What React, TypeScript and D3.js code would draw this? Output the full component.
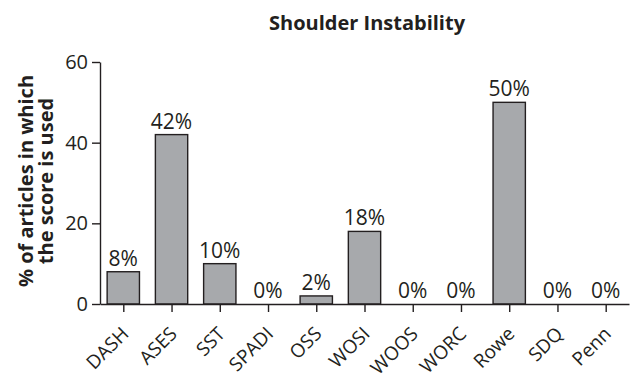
import React, { useEffect, useRef } from "react";
import * as d3 from "d3";

const categories = ["DASH", "ASES", "SST", "SPADI", "OSS", "WOSI", "WOOS", "WORC", "Rowe", "SDQ", "Penn"];
const values = [8, 42, 10, 0, 2, 18, 0, 0, 50, 0, 0];
const yTicks = [0, 20, 40, 60];
const title = "Shoulder Instability";
const yTitleLines = ["% of articles in which", "the score is used"];

const W = 633;
const H = 373;
const FONT = "'Open Sans', 'Noto Sans', sans-serif";
const INK = "#231f20";

export default function App() {
  const ref = useRef<SVGSVGElement>(null);

  useEffect(() => {
    const svg = d3.select(ref.current);
    svg.selectAll("*").remove();

    const x = d3.scalePoint<string>().domain(categories).range([100, 629]).padding(0.483);
    const y = d3.scaleLinear().domain([0, 60]).range([304, 62]);
    const bw = x.step() * 0.67;

    svg
      .append("text")
      .attr("x", 367)
      .attr("y", 30)
      .attr("text-anchor", "middle")
      .attr("font-family", FONT)
      .attr("font-weight", "bold")
      .attr("font-size", 20)
      .attr("fill", INK)
      .text(title);

    // bars
    svg
      .append("g")
      .selectAll("rect")
      .data(values)
      .join("rect")
      .attr("x", (_d, i) => (x(categories[i]) as number) - bw / 2)
      .attr("y", (d) => y(d))
      .attr("width", bw)
      .attr("height", (d) => y(0) - y(d))
      .attr("fill", "#a7a9ac")
      .attr("stroke", INK)
      .attr("stroke-width", 1.4);

    // value labels
    svg
      .append("g")
      .selectAll("text")
      .data(values)
      .join("text")
      .attr("x", (_d, i) => x(categories[i]) as number)
      .attr("y", (d) => y(d) - 6)
      .attr("text-anchor", "middle")
      .attr("font-family", FONT)
      .attr("font-size", 21)
      .attr("fill", INK)
      .text((d) => `${d}%`);

    // y axis
    const yAxis = d3.axisLeft(y).tickValues(yTicks).tickSize(8).tickPadding(4).tickSizeOuter(0);
    const gy = svg.append("g").attr("transform", "translate(100,0)").call(yAxis);
    gy.select(".domain").attr("stroke", INK).attr("stroke-width", 1.4);
    gy.selectAll(".tick line").attr("stroke", INK).attr("stroke-width", 1.4);
    gy.selectAll(".tick text")
      .attr("font-family", FONT)
      .attr("font-size", 20)
      .attr("fill", INK);

    // x axis
    const xAxis = d3.axisBottom(x).tickSize(8).tickSizeOuter(0).tickPadding(4);
    const gx = svg.append("g").attr("transform", "translate(0,304)").call(xAxis);
    gx.select(".domain").attr("stroke", INK).attr("stroke-width", 1.4);
    gx.selectAll(".tick line").attr("stroke", INK).attr("stroke-width", 1.4);
    gx.selectAll(".tick text")
      .attr("font-family", FONT)
      .attr("font-size", 19)
      .attr("fill", INK)
      .attr("text-anchor", "end")
      .attr("dy", 0)
      .attr("transform", "translate(6,31) rotate(-45)")
      .attr("y", 0)
      .attr("x", 0);

    // y title
    const yt = svg
      .append("text")
      .attr("transform", "translate(0,181) rotate(-90)")
      .attr("text-anchor", "middle")
      .attr("font-family", FONT)
      .attr("font-weight", "bold")
      .attr("font-size", 20)
      .attr("fill", INK);
    yTitleLines.forEach((l, i) => {
      yt.append("tspan").attr("x", 0).attr("y", 33 + i * 20).text(l);
    });
  }, []);

  return <svg ref={ref} width={W} height={H} style={{ position: "absolute", left: 0, top: 0 }} />;
}
